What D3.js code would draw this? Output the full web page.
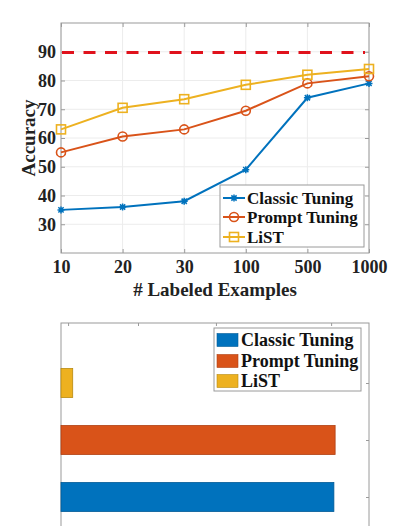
<!DOCTYPE html>
<html>
<head>
<meta charset="utf-8">
<script src="https://cdn.jsdelivr.net/npm/d3@7"></script>
<style>
html,body{margin:0;padding:0;background:#fff;}
svg{display:block;}
svg text{font-family:"Liberation Serif","Times New Roman",Times,serif !important;font-weight:bold !important;}
</style>
</head>
<body>
<svg id="c" width="411" height="526"></svg>
<script>
// ---- data ----
const categories = ["10","20","30","100","500","1000"];
const classicTuning = [35, 36, 38, 49, 74, 79];
const promptTuning = [55, 60.5, 63, 69.5, 79, 81.5];
const listValues = [63, 70.5, 73.5, 78.5, 82, 84];
const referenceLine = 89.7;
const yTicks = [30, 40, 50, 60, 70, 80, 90];
const seriesNames = ["Classic Tuning", "Prompt Tuning", "LiST"];
const seriesColors = ["#0072BD", "#D95319", "#EDB120"];
// bottom chart
const barCategories = ["LiST", "Prompt Tuning", "Classic Tuning"];
const barValues = [3.8, 89.0, 88.6];
const barTopTicks = [2.3, 25, 50.3, 87.7];

const svg = d3.select("#c");
const axisColor = "#9a9a9a";
const gridColor = "#ececec";

// ---------- top chart ----------
const L = 61, R = 369, T = 23, B = 253;
const x = d3.scalePoint().domain(categories).range([L, R]);
const y = d3.scaleLinear().domain([20, 100]).range([B, T]);

const g = svg.append("g");
// grid
g.selectAll(".hg").data(yTicks).join("line")
  .attr("x1", L).attr("x2", R).attr("y1", d => y(d)).attr("y2", d => y(d))
  .attr("stroke", gridColor).attr("stroke-width", 1);
g.selectAll(".vg").data(categories).join("line")
  .attr("x1", d => x(d)).attr("x2", d => x(d)).attr("y1", T).attr("y2", B)
  .attr("stroke", gridColor).attr("stroke-width", 1);

// axes (MATLAB box style, inward ticks)
const yAxisL = d3.axisLeft(y).tickValues(yTicks).tickSizeInner(-4).tickSizeOuter(0).tickPadding(5);
const yAxisR = d3.axisRight(y).tickValues(yTicks).tickSizeInner(-4).tickSizeOuter(0).tickFormat("");
const xAxisB = d3.axisBottom(x).tickSizeInner(-4).tickSizeOuter(0).tickPadding(7);
const xAxisT = d3.axisTop(x).tickSizeInner(-4).tickSizeOuter(0).tickFormat("");

function styleAxis(sel, fs) {
  sel.attr("font-family", null).attr("font-size", null);
  sel.select(".domain").remove();
  sel.selectAll(".tick line").attr("stroke", axisColor);
  sel.selectAll(".tick text").attr("fill", "#222").style("font-size", fs + "px");
}
g.append("g").attr("transform", `translate(${L},0)`).call(yAxisL).call(s => styleAxis(s, 18));
g.append("g").attr("transform", `translate(${R},0)`).call(yAxisR).call(s => styleAxis(s, 18));
g.append("g").attr("transform", `translate(0,${B})`).call(xAxisB).call(s => styleAxis(s, 18));
g.append("g").attr("transform", `translate(0,${T})`).call(xAxisT).call(s => styleAxis(s, 18));
g.append("rect").attr("x", L).attr("y", T).attr("width", R - L).attr("height", B - T)
  .attr("fill", "none").attr("stroke", axisColor).attr("stroke-width", 1);

// reference dashed line
g.append("line").attr("x1", L + 1).attr("x2", R - 4).attr("y1", y(referenceLine)).attr("y2", y(referenceLine))
  .attr("stroke", "#e0121c").attr("stroke-width", 3).attr("stroke-dasharray", "12,9.5");

const seriesData = [classicTuning, promptTuning, listValues];
const markerTypes = ["star", "circle", "square"];
const line = d3.line().x((d, i) => x(categories[i])).y(d => y(d));

function drawMarker(sel, type, color) {
  if (type === "circle") {
    sel.append("circle").attr("r", 4.5).attr("fill", "none").attr("stroke", color).attr("stroke-width", 1.6);
  } else if (type === "square") {
    sel.append("rect").attr("x", -4.5).attr("y", -4.5).attr("width", 9).attr("height", 9)
      .attr("fill", "none").attr("stroke", color).attr("stroke-width", 1.6);
  } else {
    const s = 3.5;
    sel.append("path").attr("d", `M${-s},0H${s}M0,${-s}V${s}M${-s*0.75},${-s*0.75}L${s*0.75},${s*0.75}M${-s*0.75},${s*0.75}L${s*0.75},${-s*0.75}`)
      .attr("stroke", color).attr("stroke-width", 1.5).attr("fill", "none");
  }
}

seriesData.forEach((vals, k) => {
  g.append("path").datum(vals).attr("d", line).attr("fill", "none")
    .attr("stroke", seriesColors[k]).attr("stroke-width", 2);
  vals.forEach((v, i) => {
    const m = g.append("g").attr("transform", `translate(${x(categories[i])},${y(v)})`);
    drawMarker(m, markerTypes[k], seriesColors[k]);
  });
});

// axis titles
svg.append("text").attr("x", 215).attr("y", 296).attr("text-anchor", "middle")
  .style("font-size", "19px").attr("fill", "#222").text("# Labeled Examples");
svg.append("text").attr("transform", `translate(35,${(T + B) / 2}) rotate(-90)`).attr("text-anchor", "middle")
  .style("font-size", "19px").attr("fill", "#222").text("Accuracy");

// legend top
const lg = svg.append("g");
lg.append("rect").attr("x", 220).attr("y", 185).attr("width", 144).attr("height", 62)
  .attr("fill", "#fff").attr("stroke", axisColor).attr("stroke-width", 1);
const legRows = [198, 217, 237];
seriesNames.forEach((n, k) => {
  lg.append("line").attr("x1", 223).attr("x2", 245).attr("y1", legRows[k]).attr("y2", legRows[k])
    .attr("stroke", seriesColors[k]).attr("stroke-width", 2);
  const m = lg.append("g").attr("transform", `translate(234,${legRows[k]})`);
  drawMarker(m, markerTypes[k], seriesColors[k]);
  lg.append("text").attr("x", 247).attr("y", legRows[k]).attr("dy", "0.35em")
    .style("font-size", "17px").attr("fill", "#111").text(n);
});

// ---------- bottom chart ----------
const L2 = 61, R2 = 369, T2 = 323, B2 = 530;
const x2 = d3.scaleLinear().domain([0, 100]).range([L2, R2]);
const y2 = d3.scalePoint().domain(barCategories).range([383, 497]);
const barH = 29;
const barColor = {"Classic Tuning": seriesColors[0], "Prompt Tuning": seriesColors[1], "LiST": seriesColors[2]};
const barEdge = {"Classic Tuning": "#005a96", "Prompt Tuning": "#b04012", "LiST": "#b88a10"};

const g2 = svg.append("g");
g2.append("rect").attr("x", L2).attr("y", T2).attr("width", R2 - L2).attr("height", B2 - T2)
  .attr("fill", "none").attr("stroke", axisColor).attr("stroke-width", 1);
g2.append("g").attr("transform", `translate(0,${T2})`)
  .call(d3.axisTop(x2).tickValues(barTopTicks).tickSizeInner(-3).tickSizeOuter(0).tickFormat(""))
  .call(s => styleAxis(s, 12));
g2.append("g").attr("transform", `translate(${R2},0)`)
  .call(d3.axisRight(y2).tickSizeInner(-3).tickSizeOuter(0).tickFormat(""))
  .call(s => styleAxis(s, 12));

g2.selectAll(".bar").data(barCategories).join("rect")
  .attr("x", x2(0)).attr("y", d => y2(d) - barH / 2)
  .attr("width", (d, i) => x2(barValues[i]) - x2(0)).attr("height", barH)
  .attr("fill", d => barColor[d]).attr("stroke", d => barEdge[d]).attr("stroke-width", 0.8);

// legend bottom
const lg2 = svg.append("g");
lg2.append("rect").attr("x", 214).attr("y", 328).attr("width", 147).attr("height", 63)
  .attr("fill", "#fff").attr("stroke", axisColor).attr("stroke-width", 1);
const legRows2 = [340, 361, 381];
seriesNames.forEach((n, k) => {
  lg2.append("rect").attr("x", 217).attr("y", legRows2[k] - 6.5).attr("width", 21).attr("height", 13)
    .attr("fill", seriesColors[k]).attr("stroke", barEdge[n]).attr("stroke-width", 0.6);
  lg2.append("text").attr("x", 241).attr("y", legRows2[k]).attr("dy", "0.35em")
    .style("font-size", "18px").attr("fill", "#111").text(n);
});
</script>
</body>
</html>
